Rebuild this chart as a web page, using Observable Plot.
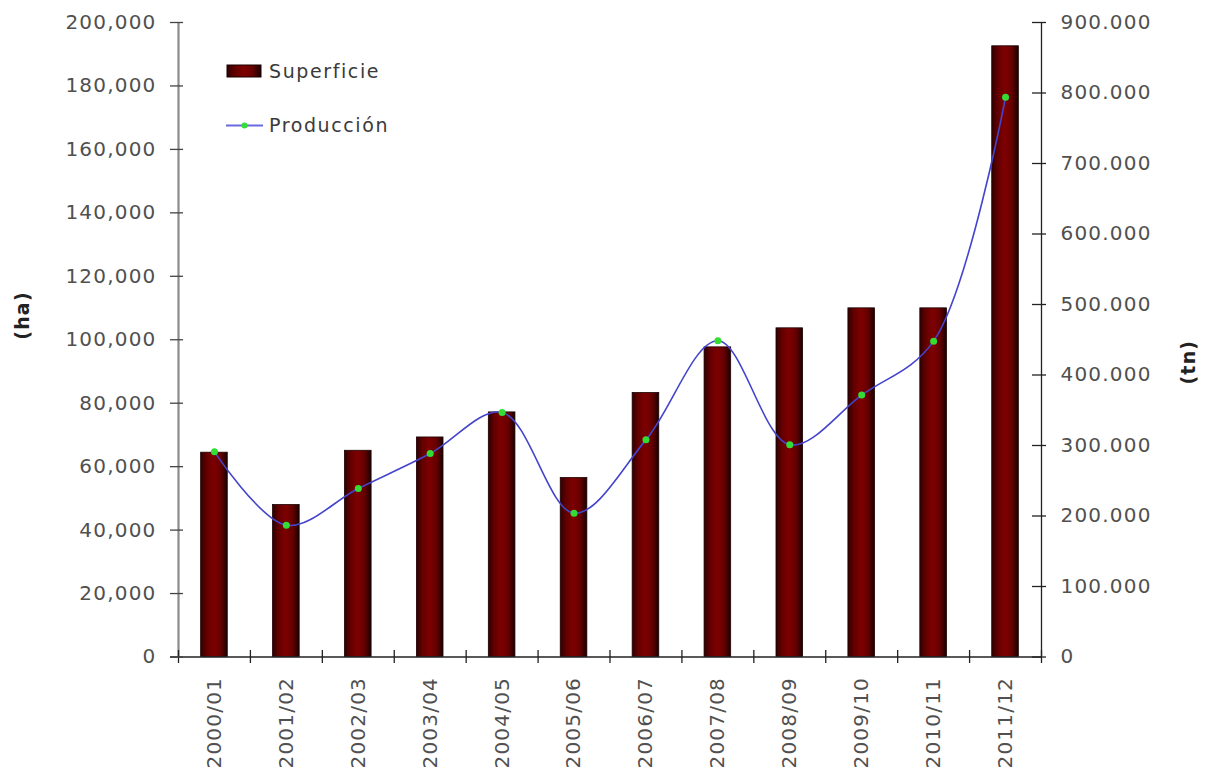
<!DOCTYPE html>
<html>
<head>
<meta charset="utf-8">
<script src="https://cdn.jsdelivr.net/npm/d3@7"></script>
<script src="https://cdn.jsdelivr.net/npm/@observablehq/plot@0.6"></script>
<style>
  body { margin: 0; background: #fff; }
  #wrap { position: relative; width: 1207px; height: 773px; font-family: "DejaVu Sans", Verdana, sans-serif; }
  #chart svg text { letter-spacing: 1.2px; }
  .lg { position: absolute; left: 226px; display: flex; align-items: center; height: 26px;
        font-size: 19px; color: #3a3a3a; letter-spacing: 1.6px; }
  .lg svg { margin-right: 6px; }
</style>
</head>
<body>
<div id="wrap">
  <div id="chart"></div>
  <div class="lg" style="top:58px">
    <svg width="37" height="15"><rect x="1" y="1" width="34" height="12" fill="url(#barGradL)" stroke="#1a0000" stroke-width="1"/>
      <defs><linearGradient id="barGradL" x1="0" x2="1" y1="0" y2="0">
        <stop offset="0" stop-color="#300000"/><stop offset="0.25" stop-color="#650000"/>
        <stop offset="0.5" stop-color="#800000"/><stop offset="0.75" stop-color="#650000"/>
        <stop offset="1" stop-color="#1a0000"/></linearGradient></defs></svg>
    <span>Superficie</span>
  </div>
  <div class="lg" style="top:112px">
    <svg width="37" height="15"><line x1="0" x2="37" y1="7.5" y2="7.5" stroke="#6a6ae0" stroke-width="2"/>
      <circle cx="18.5" cy="7.5" r="3" fill="#33dd33"/></svg>
    <span>Producción</span>
  </div>
</div>
<script>
// ---- data ----
const categories = ["2000/01","2001/02","2002/03","2003/04","2004/05","2005/06","2006/07","2007/08","2008/09","2009/10","2010/11","2011/12"];
const superficie = [64400, 47900, 65000, 69200, 77100, 56400, 83200, 97600, 103600, 109900, 109900, 192500];
const produccion = [291000, 187000, 239000, 288600, 346800, 204000, 308000, 448600, 301000, 371500, 448000, 794000];
const leftTicks = [0, 20000, 40000, 60000, 80000, 100000, 120000, 140000, 160000, 180000, 200000];
const rightTicks = [0, 100000, 200000, 300000, 400000, 500000, 600000, 700000, 800000, 900000];

// ---- layout ----
const W = 1207, H = 773;
const mL = 178, mR = 166, mT = 22, mB = 116.5;
const plotW = W - mL - mR;
const step = plotW / categories.length;
const leftMax = 200000, rightMax = 900000;
const k = leftMax / rightMax; // right-axis values mapped onto left scale

const rows = categories.map((c, i) => ({cat: c, sup: superficie[i], prod: produccion[i] * k}));
const rightTicksY = rightTicks.map(v => v * k);
const fmtLeft = d3.format(",");
const fmtRight = d => d3.format(",")(Math.round(d / k)).replace(/,/g, ".");

const textFill = "#505050";

const plot = Plot.plot({
  width: W, height: H,
  marginLeft: mL, marginRight: mR, marginTop: mT, marginBottom: mB,
  style: {fontFamily: "DejaVu Sans, Verdana, sans-serif", background: "#fff"},
  x: {type: "band", domain: categories, paddingInner: 0.63, paddingOuter: 0.315, round: false},
  y: {domain: [0, leftMax]},
  marks: [
    Plot.barY(rows, {x: "cat", y: "sup", fill: "url(#barGrad)", stroke: "#1a0000", strokeWidth: 0.8}),
    // left axis line (gray)
    Plot.ruleX([categories[0]], {x: d => d, dx: -step / 2, y1: 0, y2: leftMax, stroke: "#8a8a8a", strokeWidth: 2.2}),
    // right axis line
    Plot.ruleX([categories[categories.length - 1]], {x: d => d, dx: step / 2, y1: 0, y2: leftMax, stroke: "#222", strokeWidth: 1.3}),
    // x axis line
    Plot.ruleY([0], {stroke: "#222", strokeWidth: 1.5, insetLeft: -8}),
    // x category boundary ticks
    Plot.ruleX(categories, {x: d => d, dx: -step / 2, y1: 0, y2: 0, insetTop: -6.5, insetBottom: -6.5, stroke: "#222", strokeWidth: 1.3}),
    Plot.ruleX([categories[categories.length - 1]], {x: d => d, dx: step / 2, y1: 0, y2: 0, insetTop: -6.5, insetBottom: -6.5, stroke: "#222", strokeWidth: 1.3}),
    // left ticks crossing axis
    Plot.tickY(leftTicks, {y: d => d, insetLeft: -8, insetRight: plotW - 5, stroke: "#444", strokeWidth: 1.3}),
    // right ticks crossing axis
    Plot.tickY(rightTicksY, {y: d => d, insetLeft: plotW - 9, insetRight: -5, stroke: "#222", strokeWidth: 1.3}),
    Plot.axisY(leftTicks, {anchor: "left", tickSize: 0, tickPadding: 22, tickFormat: fmtLeft, fontSize: 20, fill: textFill, label: null}),
    Plot.axisY(rightTicksY, {anchor: "right", tickSize: 0, tickPadding: 19, tickFormat: fmtRight, fontSize: 20, fill: textFill, label: null}),
    Plot.axisX(categories, {anchor: "bottom", tickSize: 0, tickPadding: 20, tickRotate: -90, fontSize: 20, fill: textFill, label: null}),
    Plot.line(rows, {x: "cat", y: "prod", curve: "catmull-rom", stroke: "#4444cc", strokeWidth: 1.6}),
    Plot.dot(rows, {x: "cat", y: "prod", r: 3.5, fill: "#33dd33", stroke: "none"}),
    Plot.text(["(ha)"], {text: d => d, frameAnchor: "left", dx: -156, rotate: -90, fontWeight: "bold", fontSize: 19, fill: "#222"}),
    Plot.text(["(tn)"], {text: d => d, frameAnchor: "right", dx: 147, rotate: -90, fontWeight: "bold", fontSize: 19, fill: "#222"})
  ]
});

const ns = "http://www.w3.org/2000/svg";
const defs = document.createElementNS(ns, "defs");
defs.innerHTML = `<linearGradient id="barGrad" x1="0" x2="1" y1="0" y2="0">
  <stop offset="0" stop-color="#300000"/><stop offset="0.22" stop-color="#620000"/>
  <stop offset="0.48" stop-color="#7e0000"/><stop offset="0.75" stop-color="#660000"/>
  <stop offset="1" stop-color="#1a0000"/></linearGradient>`;
plot.insertBefore(defs, plot.firstChild);
document.getElementById("chart").appendChild(plot);
</script>
</body>
</html>
